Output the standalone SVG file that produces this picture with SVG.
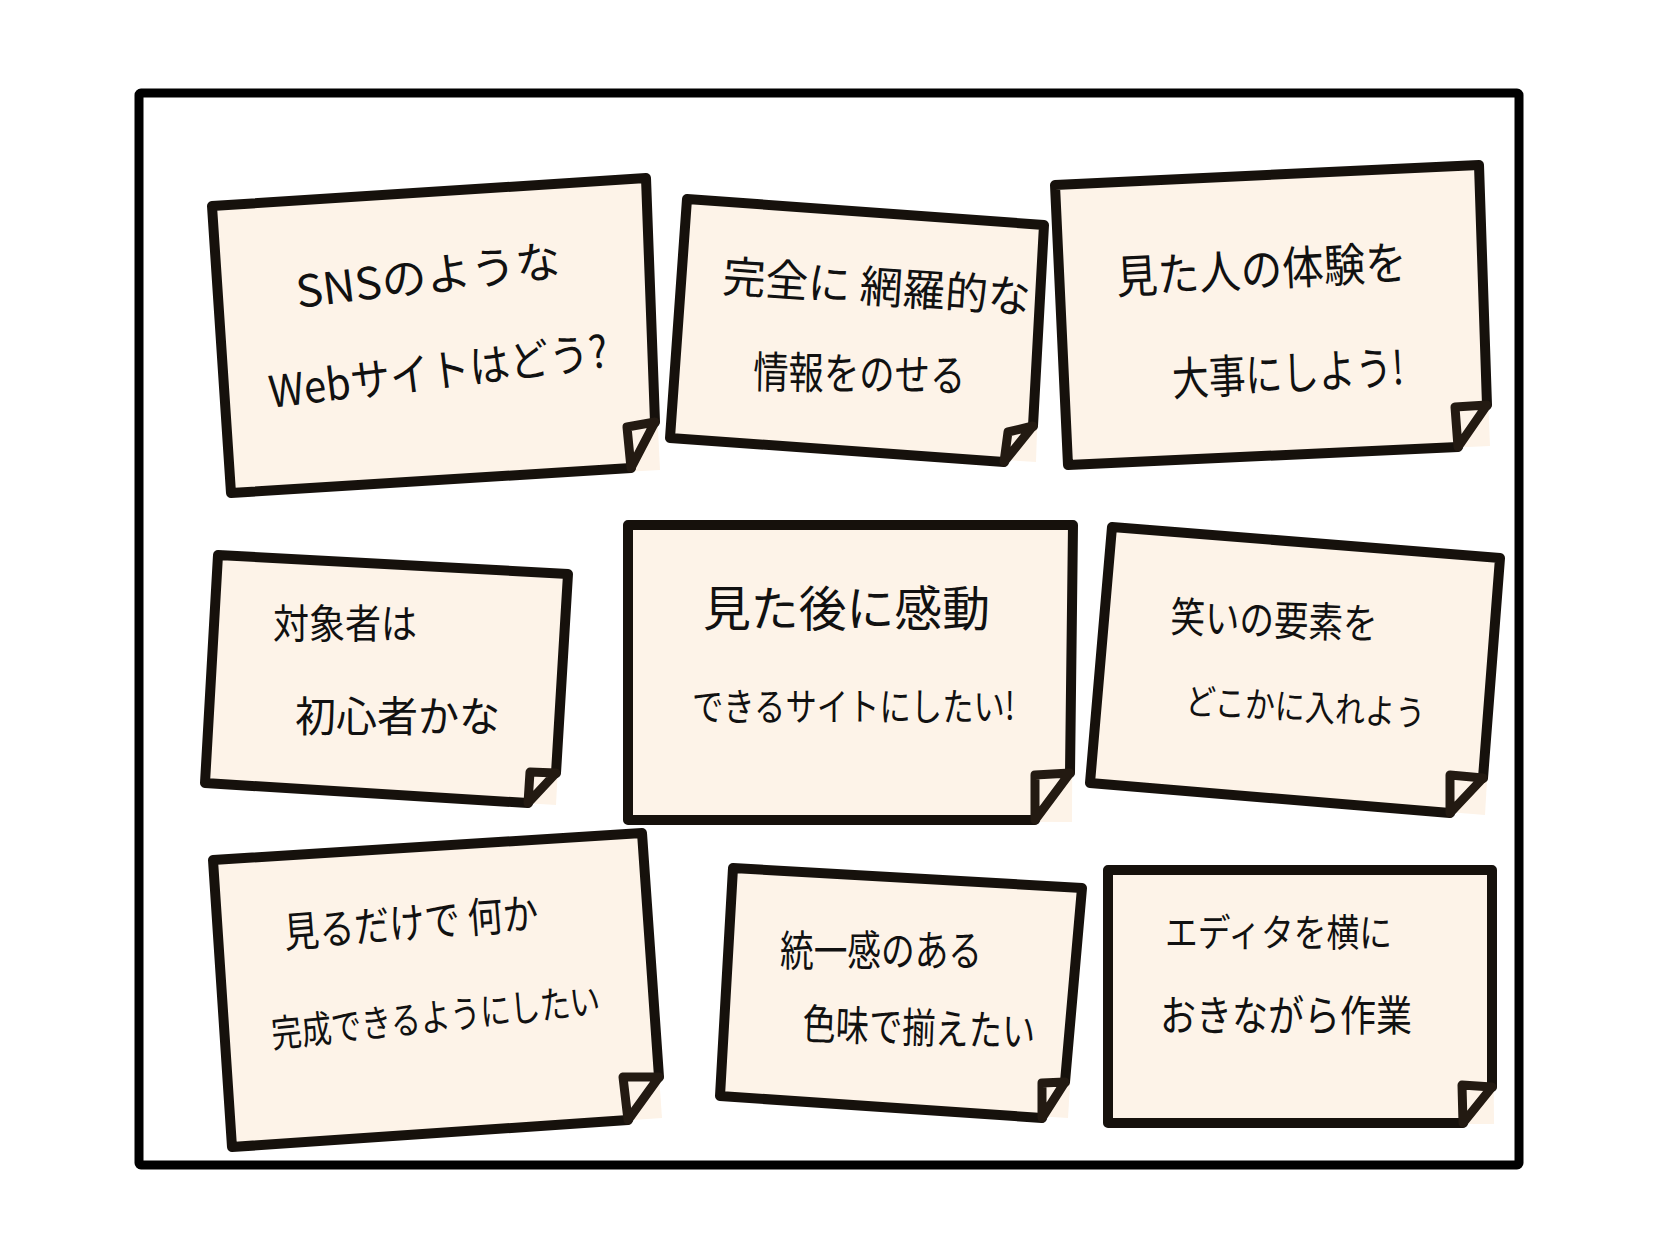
<svg xmlns="http://www.w3.org/2000/svg" width="1668" height="1257" viewBox="0 0 1668 1257">
<style>
.bg{fill:#ffffff}
.frame{fill:none;stroke:#000;stroke-width:9;stroke-linejoin:round}
.paper{fill:#fdf3e8}
.edge{fill:none;stroke:#16110c;stroke-width:10;stroke-linejoin:round;stroke-linecap:round}
.fold{fill:#fdf3e8;stroke:#231a12;stroke-width:9;stroke-linejoin:round}
.t{font-family:"Noto Sans CJK JP","Noto Sans",sans-serif;fill:#111;font-weight:400}
</style>
<rect class="bg" x="0" y="0" width="1668" height="1257"/>
<rect class="frame" x="139" y="93" width="1380" height="1072" rx="2"/>

<g id="note-sns">
<polygon class="paper" points="212,206 646,178 660,470 231,493"/>
<path class="edge" d="M631,468 L231,493 L212,206 L646,178 L655,422"/>
<polygon class="fold" points="627,427 655,422 631,468"/>
<text class="t" x="298" y="308" font-size="44" textLength="266" lengthAdjust="spacingAndGlyphs" transform="rotate(-7 298 308)">SNSのような</text>
<text class="t" x="271" y="408" font-size="44" textLength="341" lengthAdjust="spacingAndGlyphs" transform="rotate(-7 271 408)">Webサイトはどう?</text>
</g>

<g id="note-info">
<polygon class="paper" points="687,199 1044,225 1036,462 670,438"/>
<path class="edge" d="M1004,462 L670,438 L687,199 L1044,225 L1033,426"/>
<polygon class="fold" points="1008,432 1033,426 1004,462"/>
<text class="t" x="722" y="292" font-size="44" textLength="308" lengthAdjust="spacingAndGlyphs" transform="rotate(4 722 292)">完全に 網羅的な</text>
<text class="t" x="753" y="388" font-size="44" textLength="212" lengthAdjust="spacingAndGlyphs" transform="rotate(1 753 388)">情報をのせる</text>
</g>

<g id="note-experience">
<polygon class="paper" points="1055,185 1479,165 1490,446 1068,465"/>
<path class="edge" d="M1458,447 L1068,465 L1055,185 L1479,165 L1487,405"/>
<polygon class="fold" points="1455,407 1487,405 1458,447"/>
<text class="t" x="1117" y="294" font-size="46" textLength="291" lengthAdjust="spacingAndGlyphs" transform="rotate(-3 1117 294)">見た人の体験を</text>
<text class="t" x="1173" y="396" font-size="46" textLength="232" lengthAdjust="spacingAndGlyphs" transform="rotate(-3 1173 396)">大事にしよう!</text>
</g>

<g id="note-target">
<polygon class="paper" points="218,555 568,574 556,805 205,783"/>
<path class="edge" d="M528,803 L205,783 L218,555 L568,574 L556,773"/>
<polygon class="fold" points="530,772 556,773 528,803"/>
<text class="t" x="273" y="638" font-size="40" textLength="144" lengthAdjust="spacingAndGlyphs">対象者は</text>
<text class="t" x="295" y="732" font-size="42" textLength="205" lengthAdjust="spacingAndGlyphs">初心者かな</text>
</g>

<g id="note-impression">
<polygon class="paper" points="628,525 1073,525 1072,822 628,820"/>
<path class="edge" d="M1035,820 L628,820 L628,525 L1073,525 L1070,773"/>
<polygon class="fold" points="1035,775 1070,773 1035,820"/>
<text class="t" x="703" y="626" font-size="48" textLength="287" lengthAdjust="spacingAndGlyphs">見た後に感動</text>
<text class="t" x="692" y="720" font-size="38" textLength="323" lengthAdjust="spacingAndGlyphs">できるサイトにしたい!</text>
</g>

<g id="note-humor">
<polygon class="paper" points="1112,527 1500,558 1485,815 1090,783"/>
<path class="edge" d="M1450,813 L1090,783 L1112,527 L1500,558 L1483,778"/>
<polygon class="fold" points="1450,775 1483,778 1450,813"/>
<text class="t" x="1170" y="632" font-size="42" textLength="207" lengthAdjust="spacingAndGlyphs" transform="rotate(2 1170 632)">笑いの要素を</text>
<text class="t" x="1185" y="714" font-size="36" textLength="240" lengthAdjust="spacingAndGlyphs" transform="rotate(3 1185 714)">どこかに入れよう</text>
</g>

<g id="note-complete">
<polygon class="paper" points="213,860 642,833 662,1118 232,1147"/>
<path class="edge" d="M628,1120 L232,1147 L213,860 L642,833 L659,1077"/>
<polygon class="fold" points="623,1077 659,1077 628,1120"/>
<text class="t" x="285" y="948" font-size="42" textLength="255" lengthAdjust="spacingAndGlyphs" transform="rotate(-4.5 285 948)">見るだけで 何か</text>
<text class="t" x="273" y="1048" font-size="38" textLength="330" lengthAdjust="spacingAndGlyphs" transform="rotate(-6 273 1048)">完成できるようにしたい</text>
</g>

<g id="note-color">
<polygon class="paper" points="733,868 1082,888 1068,1118 720,1096"/>
<path class="edge" d="M1042,1118 L720,1096 L733,868 L1082,888 L1065,1082"/>
<polygon class="fold" points="1042,1083 1065,1082 1042,1118"/>
<text class="t" x="780" y="966" font-size="42" textLength="202" lengthAdjust="spacingAndGlyphs">統一感のある</text>
<text class="t" x="802" y="1039" font-size="42" textLength="233" lengthAdjust="spacingAndGlyphs" transform="rotate(2 802 1039)">色味で揃えたい</text>
</g>

<g id="note-editor">
<polygon class="paper" points="1108,870 1492,870 1494,1124 1108,1123"/>
<path class="edge" d="M1463,1123 L1108,1123 L1108,870 L1492,870 L1492,1087"/>
<polygon class="fold" points="1462,1085 1492,1087 1463,1123"/>
<text class="t" x="1165" y="946" font-size="38" textLength="227" lengthAdjust="spacingAndGlyphs">エディタを横に</text>
<text class="t" x="1160" y="1031" font-size="42" textLength="252" lengthAdjust="spacingAndGlyphs">おきながら作業</text>
</g>

<g id="connectors"></g>
</svg>
